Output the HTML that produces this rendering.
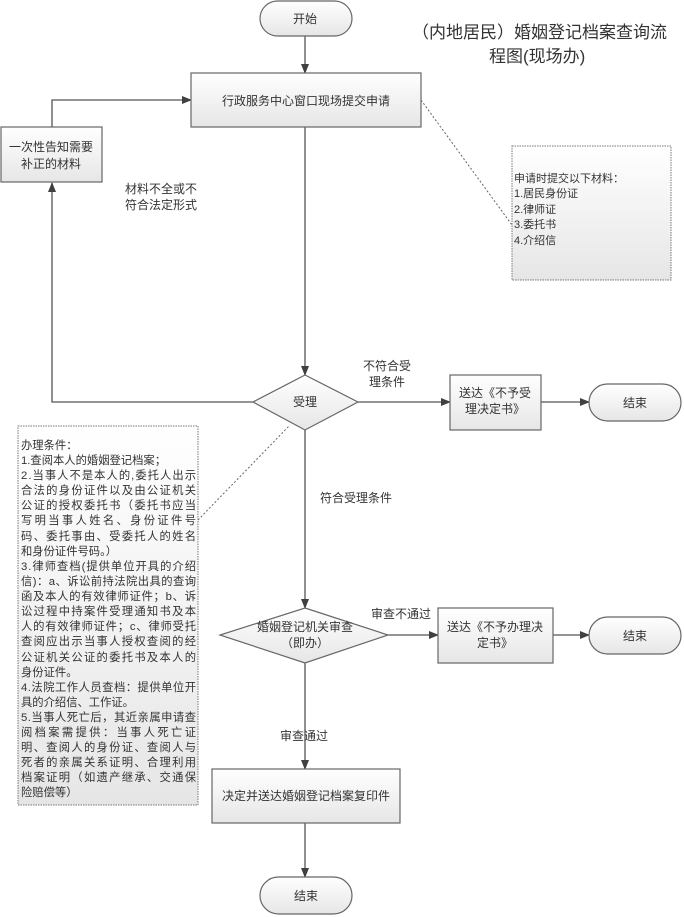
<!DOCTYPE html>
<html><head><meta charset="utf-8">
<style>
html,body{margin:0;padding:0;background:#fff;}
svg{display:block;font-family:"Liberation Sans","Noto Sans CJK SC",sans-serif;}
</style></head>
<body>
<svg width="684" height="917" viewBox="0 0 684 917" xmlns="http://www.w3.org/2000/svg">
<defs>
<linearGradient id="g" x1="0" y1="0" x2="0" y2="1">
<stop offset="0" stop-color="#ffffff"/><stop offset="1" stop-color="#e6e6e6"/>
</linearGradient>
<marker id="a" markerWidth="10" markerHeight="10" refX="9" refY="5" orient="auto" markerUnits="userSpaceOnUse">
<path d="M0,1 L10,5 L0,9 z" fill="#404040"/>
</marker>
</defs>
<g stroke="#555" stroke-width="1.3" fill="none">
<!-- connectors -->
<line x1="305" y1="36" x2="305" y2="73" marker-end="url(#a)"/>
<line x1="305" y1="127" x2="305" y2="375" marker-end="url(#a)"/>
<polyline points="52,127 52,100 191,100" marker-end="url(#a)"/>
<polyline points="253,402 52,402 52,183" marker-end="url(#a)"/>
<line x1="358" y1="402" x2="450" y2="402" marker-end="url(#a)"/>
<line x1="541" y1="402" x2="589" y2="402" marker-end="url(#a)"/>
<line x1="305" y1="430" x2="305" y2="608" marker-end="url(#a)"/>
<line x1="388" y1="635" x2="438" y2="635" marker-end="url(#a)"/>
<line x1="553" y1="635" x2="589" y2="635" marker-end="url(#a)"/>
<line x1="305" y1="663" x2="305" y2="769" marker-end="url(#a)"/>
<line x1="305" y1="823" x2="305" y2="877" marker-end="url(#a)"/>
</g>
<g stroke="#666" stroke-width="1" stroke-dasharray="2,2" fill="none">
<line x1="421" y1="100" x2="512" y2="225"/>
<line x1="198" y1="520" x2="290" y2="425"/>
</g>
<g stroke="#666" stroke-width="1.2" fill="url(#g)">
<rect x="260" y="1" width="92" height="35" rx="17.5"/>
<rect x="191" y="73" width="230" height="54"/>
<rect x="1" y="127" width="101" height="55"/>
<polygon points="305,375 358,402 305,430 253,402"/>
<rect x="450" y="375" width="91" height="55"/>
<rect x="589" y="384" width="92" height="37" rx="18.5"/>
<polygon points="305,608 388,635 305,663 220,635"/>
<rect x="438" y="608" width="115" height="55"/>
<rect x="589" y="617" width="92" height="37" rx="18.5"/>
<rect x="212" y="769" width="188" height="54"/>
<rect x="260" y="877" width="92" height="37" rx="18.5"/>
</g>
<g fill="url(#g)" stroke="#777" stroke-width="1" stroke-dasharray="1.5,1">
<rect x="512" y="146" width="159" height="134"/>
<rect x="18" y="426" width="180" height="379"/>
</g>
<g fill="#333" font-size="12" text-anchor="middle">
<text x="305" y="23">开始</text>
<text x="306" y="105">行政服务中心窗口现场提交申请</text>
<text x="51" y="151">一次性告知需要</text>
<text x="51" y="168">补正的材料</text>
<text x="305" y="406">受理</text>
<text x="495" y="397">送达《不予受</text>
<text x="495" y="413">理决定书》</text>
<text x="635" y="407">结束</text>
<text x="305" y="631">婚姻登记机关审查</text>
<text x="305" y="647">（即办）</text>
<text x="495" y="631">送达《不予办理决</text>
<text x="495" y="647">定书》</text>
<text x="635" y="640">结束</text>
<text x="306" y="800">决定并送达婚姻登记档案复印件</text>
<text x="306" y="900">结束</text>
</g>
<g fill="#333" font-size="12">
<text x="125" y="193">材料不全或不</text>
<text x="125" y="209">符合法定形式</text>
<text x="363" y="370">不符合受</text>
<text x="369" y="386">理条件</text>
<text x="320" y="502">符合受理条件</text>
<text x="371" y="618">审查不通过</text>
<text x="280" y="740">审查通过</text>
</g>
<g fill="#333" font-size="17">
<text x="412" y="38">（内地居民）婚姻登记档案查询流</text>
<text x="489" y="62">程图(现场办)</text>
</g>
<g fill="#333" font-size="11">
<text x="514" y="182">申请时提交以下材料：</text>
<text x="514" y="197">1.居民身份证</text>
<text x="514" y="213">2.律师证</text>
<text x="514" y="228">3.委托书</text>
<text x="514" y="244">4.介绍信</text>
</g>
<g fill="#333" font-size="11.3">
<text x="21" y="449">办理条件：</text>
<text x="21" y="464">1.查阅本人的婚姻登记档案；</text>
<text x="21" y="479" textLength="175" lengthAdjust="spacing">2.当事人不是本人的,委托人出示</text>
<text x="21" y="494" textLength="175" lengthAdjust="spacing">合法的身份证件以及由公证机关</text>
<text x="21" y="509" textLength="175" lengthAdjust="spacing">公证的授权委托书（委托书应当</text>
<text x="21" y="524" textLength="175" lengthAdjust="spacing">写明当事人姓名、身份证件号</text>
<text x="21" y="540" textLength="175" lengthAdjust="spacing">码、委托事由、受委托人的姓名</text>
<text x="21" y="555">和身份证件号码。）</text>
<text x="21" y="570" textLength="175" lengthAdjust="spacing">3.律师查档(提供单位开具的介绍</text>
<text x="21" y="585" textLength="175" lengthAdjust="spacing">信)：a、诉讼前持法院出具的查询</text>
<text x="21" y="600" textLength="175" lengthAdjust="spacing">函及本人的有效律师证件；b、诉</text>
<text x="21" y="615" textLength="175" lengthAdjust="spacing">讼过程中持案件受理通知书及本</text>
<text x="21" y="630" textLength="175" lengthAdjust="spacing">人的有效律师证件；c、律师受托</text>
<text x="21" y="645" textLength="175" lengthAdjust="spacing">查阅应出示当事人授权查阅的经</text>
<text x="21" y="661" textLength="175" lengthAdjust="spacing">公证机关公证的委托书及本人的</text>
<text x="21" y="676">身份证件。</text>
<text x="21" y="691" textLength="175" lengthAdjust="spacing">4.法院工作人员查档：提供单位开</text>
<text x="21" y="706">具的介绍信、工作证。</text>
<text x="21" y="721" textLength="175" lengthAdjust="spacing">5.当事人死亡后，其近亲属申请查</text>
<text x="21" y="736" textLength="175" lengthAdjust="spacing">阅档案需提供：当事人死亡证</text>
<text x="21" y="751" textLength="175" lengthAdjust="spacing">明、查阅人的身份证、查阅人与</text>
<text x="21" y="766" textLength="175" lengthAdjust="spacing">死者的亲属关系证明、合理利用</text>
<text x="21" y="781" textLength="175" lengthAdjust="spacing">档案证明（如遗产继承、交通保</text>
<text x="21" y="796">险赔偿等）</text>
</g>
</svg>
</body></html>
